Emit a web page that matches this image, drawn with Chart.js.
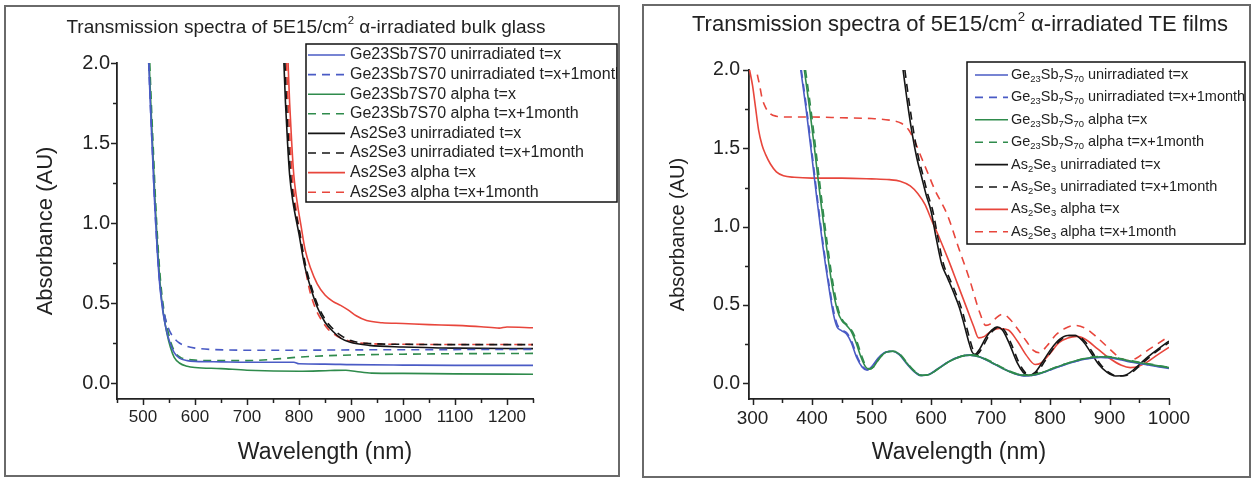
<!DOCTYPE html>
<html>
<head>
<meta charset="utf-8">
<title>Absorbance spectra of alpha-irradiated chalcogenides</title>
<script src="https://cdn.jsdelivr.net/npm/chart.js@4.4.1/dist/chart.umd.min.js"></script>
<style>
  html, body { margin: 0; padding: 0; background: #fff; }
  body { position: relative; width: 1253px; height: 479px; overflow: hidden; font-family: "Liberation Sans", Arial, sans-serif; color: #222; }
  canvas { position: absolute; top: 0; }
  .frame { position: absolute; box-sizing: border-box; border: 2px solid #6a6a6a; pointer-events: none; }
  .title { position: absolute; text-align: center; white-space: nowrap; color: #222; }
  .title sup { font-size: 0.6em; line-height: 0; vertical-align: 0.75em; }
</style>
</head>
<body>
<canvas id="bulk-chart" width="626" height="479" style="left:0"></canvas>
<canvas id="film-chart" width="623" height="479" style="left:630px"></canvas>
<div class="title" style="left:0;top:16px;width:612px;font-size:19px;line-height:22px">Transmission spectra of 5E15/cm<sup>2</sup> α-irradiated bulk glass</div>
<div class="title" style="left:660px;top:11px;width:600px;font-size:22px;line-height:26px">Transmission spectra of 5E15/cm<sup>2</sup> α-irradiated TE films</div>
<div class="frame" style="left:4px;top:5px;width:616px;height:472px"></div>
<div class="frame" style="left:642px;top:4px;width:609px;height:474px"></div>
<script>
// Tick values
const bulkMajorX = [500, 600, 700, 800, 900, 1000, 1100, 1200]
const bulkMinorX = [450, 550, 650, 750, 850, 950, 1050, 1150, 1250]
const filmMajorX = [300, 400, 500, 600, 700, 800, 900, 1000]
const filmMinorX = [350, 450, 550, 650, 750, 850, 950]
const yMajor = [0.0, 0.5, 1.0, 1.5, 2.0]
const yMinor = [0.25, 0.75, 1.25, 1.75]

// Legend labels (_{..} marks a subscript)
const bulkLabels = [
  "Ge23Sb7S70 unirradiated t=x",
  "Ge23Sb7S70 unirradiated t=x+1month",
  "Ge23Sb7S70 alpha t=x",
  "Ge23Sb7S70 alpha t=x+1month",
  "As2Se3 unirradiated t=x",
  "As2Se3 unirradiated t=x+1month",
  "As2Se3 alpha t=x",
  "As2Se3 alpha t=x+1month",
]
const filmLabels = [
  "Ge_{23}Sb_{7}S_{70} unirradiated t=x",
  "Ge_{23}Sb_{7}S_{70} unirradiated t=x+1month",
  "Ge_{23}Sb_{7}S_{70} alpha t=x",
  "Ge_{23}Sb_{7}S_{70} alpha t=x+1month",
  "As_{2}Se_{3} unirradiated t=x",
  "As_{2}Se_{3} unirradiated t=x+1month",
  "As_{2}Se_{3} alpha t=x",
  "As_{2}Se_{3} alpha t=x+1month",
]

// Bulk glass spectra: [wavelength nm, absorbance AU]
const bulkGeUnirr = [[511, 2.0], [514, 1.75], [518, 1.45], [522, 1.15], [527, 0.85], [532, 0.62], [538, 0.45], [545, 0.33], [552, 0.25], [560, 0.19], [570, 0.155], [585, 0.14], [600, 0.135], [650, 0.132], [700, 0.13], [790, 0.13], [800, 0.12], [850, 0.118], [900, 0.115], [1000, 0.112], [1100, 0.11], [1250, 0.11]]
const bulkGeUnirrLater = [[511, 2.0], [514, 1.75], [518, 1.45], [522, 1.15], [527, 0.85], [532, 0.63], [538, 0.48], [545, 0.38], [552, 0.32], [560, 0.28], [570, 0.25], [585, 0.228], [600, 0.218], [630, 0.21], [700, 0.205], [800, 0.205], [900, 0.207], [1000, 0.208], [1250, 0.21]]
const bulkGeAlpha = [[512, 2.0], [515, 1.75], [519, 1.45], [523, 1.15], [528, 0.85], [533, 0.62], [539, 0.44], [546, 0.31], [553, 0.22], [560, 0.16], [570, 0.125], [585, 0.105], [600, 0.097], [650, 0.09], [700, 0.08], [800, 0.073], [860, 0.078], [890, 0.08], [910, 0.072], [940, 0.062], [1000, 0.06], [1100, 0.057], [1250, 0.055]]
const bulkGeAlphaLater = [[513, 2.0], [516, 1.75], [520, 1.45], [524, 1.15], [529, 0.85], [534, 0.63], [540, 0.46], [547, 0.34], [554, 0.25], [562, 0.19], [572, 0.16], [585, 0.148], [600, 0.143], [650, 0.14], [700, 0.14], [750, 0.148], [800, 0.162], [850, 0.17], [900, 0.175], [1000, 0.18], [1100, 0.183], [1250, 0.185]]
const bulkAsUnirr = [[771, 2.0], [774, 1.75], [778, 1.5], [782, 1.3], [788, 1.14], [800, 0.93], [811, 0.73], [822, 0.6], [835, 0.475], [850, 0.38], [866, 0.32], [880, 0.28], [897, 0.256], [935, 0.235], [1000, 0.225], [1100, 0.218], [1250, 0.215]]
const bulkAsUnirrLater = [[773, 2.0], [776, 1.75], [780, 1.5], [784, 1.3], [790, 1.14], [802, 0.93], [813, 0.73], [824, 0.6], [837, 0.48], [852, 0.39], [868, 0.33], [884, 0.29], [900, 0.265], [930, 0.248], [1000, 0.242], [1100, 0.24], [1250, 0.24]]
const bulkAsAlpha = [[779, 2.0], [782, 1.75], [786, 1.5], [790, 1.3], [796, 1.14], [804, 0.98], [812, 0.83], [822, 0.72], [835, 0.62], [850, 0.55], [865, 0.51], [880, 0.485], [895, 0.455], [910, 0.42], [930, 0.39], [960, 0.377], [1000, 0.372], [1050, 0.365], [1100, 0.36], [1150, 0.352], [1185, 0.343], [1200, 0.35], [1250, 0.345]]
const bulkAsAlphaLater = [[776, 2.0], [779, 1.75], [783, 1.5], [787, 1.3], [793, 1.12], [800, 0.97], [808, 0.8], [819, 0.6], [830, 0.48], [842, 0.4], [855, 0.34], [870, 0.3], [885, 0.275], [905, 0.255], [940, 0.245], [1000, 0.242], [1250, 0.24]]

// Thermally evaporated film spectra: [wavelength nm, absorbance AU]
const filmGeUnirr = [[381, 2.0], [390, 1.75], [399, 1.47], [408, 1.18], [418, 0.88], [428, 0.62], [436, 0.44], [442, 0.36], [450, 0.335], [458, 0.315], [466, 0.26], [475, 0.165], [484, 0.105], [492, 0.085], [500, 0.105], [512, 0.165], [524, 0.2], [535, 0.205], [546, 0.185], [558, 0.13], [570, 0.08], [583, 0.05], [595, 0.055], [610, 0.09], [630, 0.14], [650, 0.172], [665, 0.18], [680, 0.17], [700, 0.135], [720, 0.095], [740, 0.062], [760, 0.047], [780, 0.058], [800, 0.085], [830, 0.125], [860, 0.155], [885, 0.165], [905, 0.16], [930, 0.14], [960, 0.12], [1000, 0.095]]
const filmGeUnirrLater = [[382, 2.0], [391, 1.75], [400, 1.47], [409, 1.18], [419, 0.88], [429, 0.62], [437, 0.45], [443, 0.37], [451, 0.34], [459, 0.32], [467, 0.265], [476, 0.17], [485, 0.108], [493, 0.087], [501, 0.107], [513, 0.166], [525, 0.2], [536, 0.205], [547, 0.185], [559, 0.13], [571, 0.08], [584, 0.05], [596, 0.055], [611, 0.09], [631, 0.14], [651, 0.172], [666, 0.18], [681, 0.17], [701, 0.135], [721, 0.095], [741, 0.062], [761, 0.048], [781, 0.06], [801, 0.087], [831, 0.127], [861, 0.157], [886, 0.167], [906, 0.162], [931, 0.142], [961, 0.122], [1000, 0.097]]
const filmGeAlpha = [[387, 2.0], [396, 1.75], [405, 1.47], [414, 1.18], [424, 0.88], [434, 0.62], [443, 0.46], [450, 0.4], [458, 0.37], [466, 0.33], [474, 0.26], [482, 0.17], [490, 0.105], [496, 0.09], [503, 0.105], [514, 0.165], [525, 0.2], [536, 0.205], [547, 0.185], [559, 0.13], [571, 0.08], [584, 0.05], [596, 0.055], [611, 0.09], [631, 0.14], [651, 0.172], [666, 0.18], [681, 0.17], [701, 0.135], [721, 0.095], [741, 0.062], [761, 0.05], [781, 0.062], [801, 0.09], [831, 0.13], [861, 0.16], [886, 0.17], [906, 0.165], [931, 0.145], [961, 0.125], [1000, 0.1]]
const filmGeAlphaLater = [[389, 2.0], [398, 1.75], [407, 1.47], [416, 1.18], [426, 0.88], [436, 0.62], [445, 0.46], [452, 0.4], [460, 0.37], [468, 0.33], [476, 0.26], [484, 0.17], [491, 0.107], [497, 0.092], [504, 0.107], [515, 0.166], [526, 0.2], [537, 0.205], [548, 0.185], [560, 0.13], [572, 0.08], [585, 0.052], [597, 0.057], [612, 0.092], [632, 0.142], [652, 0.174], [667, 0.182], [682, 0.172], [702, 0.137], [722, 0.097], [742, 0.064], [762, 0.052], [782, 0.064], [802, 0.092], [832, 0.132], [862, 0.162], [887, 0.172], [907, 0.167], [932, 0.147], [962, 0.127], [1000, 0.102]]
const filmAsUnirr = [[553, 2.0], [560, 1.8], [568, 1.6], [576, 1.44], [584, 1.32], [592, 1.2], [600, 1.1], [609, 0.92], [618, 0.76], [628, 0.67], [638, 0.58], [648, 0.48], [656, 0.37], [663, 0.27], [669, 0.2], [674, 0.185], [682, 0.22], [692, 0.29], [702, 0.34], [711, 0.36], [720, 0.34], [732, 0.25], [745, 0.13], [755, 0.07], [764, 0.05], [775, 0.07], [788, 0.14], [802, 0.22], [816, 0.28], [830, 0.305], [842, 0.305], [855, 0.27], [868, 0.2], [882, 0.12], [896, 0.07], [910, 0.047], [922, 0.048], [935, 0.07], [950, 0.12], [965, 0.17], [982, 0.22], [1000, 0.27]]
const filmAsUnirrLater = [[556, 2.0], [563, 1.8], [571, 1.6], [579, 1.44], [587, 1.32], [595, 1.2], [603, 1.1], [612, 0.92], [621, 0.76], [631, 0.67], [641, 0.58], [651, 0.48], [659, 0.37], [666, 0.27], [672, 0.2], [677, 0.185], [685, 0.22], [695, 0.29], [705, 0.34], [714, 0.36], [723, 0.34], [735, 0.25], [748, 0.13], [758, 0.07], [767, 0.05], [778, 0.07], [791, 0.14], [805, 0.22], [819, 0.28], [833, 0.305], [845, 0.305], [858, 0.27], [871, 0.2], [885, 0.12], [899, 0.07], [913, 0.047], [925, 0.048], [938, 0.07], [953, 0.12], [968, 0.17], [985, 0.22], [1000, 0.26]]
const filmAsAlpha = [[295, 2.0], [300, 1.9], [305, 1.76], [310, 1.62], [316, 1.52], [322, 1.46], [330, 1.4], [340, 1.35], [352, 1.325], [370, 1.315], [400, 1.31], [450, 1.31], [500, 1.305], [530, 1.3], [548, 1.29], [565, 1.26], [578, 1.21], [590, 1.14], [600, 1.05], [615, 0.92], [630, 0.78], [645, 0.63], [660, 0.48], [672, 0.36], [680, 0.29], [690, 0.3], [700, 0.33], [715, 0.35], [730, 0.34], [745, 0.27], [760, 0.18], [775, 0.12], [785, 0.13], [800, 0.19], [815, 0.26], [830, 0.29], [845, 0.3], [860, 0.28], [880, 0.22], [900, 0.16], [920, 0.115], [935, 0.1], [950, 0.11], [965, 0.14], [980, 0.18], [1000, 0.23]]
const filmAsAlphaLater = [[308, 1.97], [312, 1.9], [316, 1.82], [322, 1.76], [330, 1.72], [340, 1.705], [360, 1.7], [400, 1.7], [450, 1.695], [500, 1.69], [530, 1.68], [550, 1.66], [562, 1.62], [572, 1.55], [585, 1.43], [597, 1.32], [607, 1.23], [618, 1.15], [628, 1.07], [645, 0.88], [665, 0.66], [682, 0.45], [692, 0.37], [700, 0.38], [710, 0.42], [720, 0.44], [730, 0.42], [745, 0.35], [760, 0.27], [772, 0.21], [782, 0.195], [795, 0.24], [810, 0.31], [825, 0.35], [842, 0.37], [860, 0.35], [880, 0.29], [900, 0.22], [915, 0.17], [930, 0.145], [945, 0.16], [960, 0.2], [980, 0.25], [1000, 0.3]]

const bulkSeries = [bulkGeUnirr, bulkGeUnirrLater, bulkGeAlpha, bulkGeAlphaLater, bulkAsUnirr, bulkAsUnirrLater, bulkAsAlpha, bulkAsAlphaLater]
const filmSeries = [filmGeUnirr, filmGeUnirrLater, filmGeAlpha, filmGeAlphaLater, filmAsUnirr, filmAsUnirrLater, filmAsAlpha, filmAsAlphaLater]

// Line styles, in legend order
const lineColors = ["#4a5bc5", "#4a5bc5", "#2f8b4c", "#2f8b4c", "#151515", "#151515", "#e8463c", "#e8463c"]
const lineDashed = [false, true, false, true, false, true, false, true]

// Stacking of the curves (lower value is drawn on top)
const bulkDrawOrder = [0, 1, 2, 3, 4, 5, 6, 7]
const filmDrawOrder = [3, 2, 1, 0, 4, 5, 6, 7]

const FONT = "'Liberation Sans', Arial, sans-serif"
const INK = "#222"

// Draws text where _{..} parts are set as subscripts
function drawRichText(ctx, text, x, y, size) {
  const parts = text.split(/_\{([^}]*)\}/)
  let cx = x
  parts.forEach((part, i) => {
    if (!part) return
    const sub = i % 2 === 1
    ctx.font = `${sub ? size * 0.65 : size}px ${FONT}`
    ctx.fillText(part, cx, sub ? y + size * 0.3 : y)
    cx += ctx.measureText(part).width
  })
}

// Boxed legend drawn over the plot area, rows in dataset index order
const legendBox = {
  id: "legendBox",
  afterDatasetsDraw(chart, args, opts) {
    const ctx = chart.ctx
    const [bx, by, bw, bh] = opts.box
    ctx.save()
    ctx.fillStyle = "#fff"
    ctx.fillRect(bx, by, bw, bh)
    ctx.beginPath()
    ctx.rect(bx, by, bw, bh)
    ctx.clip()
    chart.data.datasets.forEach((ds, i) => {
      const y = by + opts.firstRow + i * opts.rowGap
      ctx.strokeStyle = ds.borderColor
      ctx.lineWidth = ds.borderWidth
      ctx.setLineDash(ds.borderDash)
      ctx.beginPath()
      ctx.moveTo(bx + opts.sample[0], y)
      ctx.lineTo(bx + opts.sample[1], y)
      ctx.stroke()
      ctx.fillStyle = INK
      ctx.textBaseline = "middle"
      ctx.textAlign = "left"
      drawRichText(ctx, ds.label, bx + opts.textX, y, opts.fontSize)
    })
    ctx.restore()
    ctx.save()
    ctx.strokeStyle = "#111"
    ctx.lineWidth = 1.5
    ctx.strokeRect(bx, by, bw, bh)
    ctx.restore()
  },
}

// Outward tick marks, major ones longer
const axisTicks = {
  id: "axisTicks",
  afterDraw(chart) {
    const { ctx, chartArea, scales } = chart
    ctx.save()
    ctx.strokeStyle = INK
    ctx.lineWidth = 1.5
    ctx.beginPath()
    scales.x.ticks.forEach((t) => {
      const px = Math.round(scales.x.getPixelForValue(t.value)) + 0.5
      ctx.moveTo(px, chartArea.bottom)
      ctx.lineTo(px, chartArea.bottom + (t.label ? 6 : 4))
    })
    scales.y.ticks.forEach((t) => {
      const py = Math.round(scales.y.getPixelForValue(t.value)) + 0.5
      ctx.moveTo(chartArea.left, py)
      ctx.lineTo(chartArea.left - (t.label ? 6 : 4), py)
    })
    ctx.stroke()
    ctx.restore()
  },
}

function makeChart(canvasId, cfg) {
  const datasets = cfg.series.map((points, i) => ({
    label: cfg.labels[i],
    data: points.map(([x, y]) => ({ x, y })),
    order: cfg.drawOrder[i],
    borderColor: lineColors[i],
    borderWidth: 1.6,
    borderDash: lineDashed[i] ? [8, 6] : [],
    pointRadius: 0,
    cubicInterpolationMode: "monotone",
    fill: false,
  }))

  return new Chart(document.getElementById(canvasId), {
    type: "line",
    data: { datasets },
    plugins: [legendBox, axisTicks],
    options: {
      responsive: false,
      animation: false,
      devicePixelRatio: 1,
      events: [],
      layout: { padding: { left: 0, top: cfg.top, right: cfg.right, bottom: 0 } },
      plugins: {
        legend: { display: false },
        tooltip: { enabled: false },
        title: { display: false },
        legendBox: cfg.legend,
      },
      scales: {
        x: {
          type: "linear",
          min: cfg.xMin,
          max: cfg.xMax,
          afterBuildTicks: (axis) => {
            axis.ticks = cfg.majorX.concat(cfg.minorX).sort((a, b) => a - b).map((v) => ({ value: v }))
          },
          afterFit: (axis) => {
            axis.height = 80
          },
          ticks: {
            autoSkip: false,
            maxRotation: 0,
            minRotation: 0,
            padding: 2.5,
            color: INK,
            font: { family: FONT, size: cfg.xTickSize },
            callback: (v) => (cfg.majorX.includes(v) ? String(v) : ""),
          },
          grid: { drawOnChartArea: false, drawTicks: true, tickLength: 6, tickColor: "transparent" },
          border: { display: true, color: INK, width: 1.8 },
          title: {
            display: true,
            text: "Wavelength (nm)",
            color: INK,
            font: { family: FONT, size: cfg.xTitleSize },
            padding: { top: 0, bottom: cfg.xTitlePad },
          },
        },
        y: {
          type: "linear",
          min: -0.1,
          max: 2.0,
          afterBuildTicks: (axis) => {
            axis.ticks = yMajor.concat(yMinor).sort((a, b) => a - b).map((v) => ({ value: v }))
          },
          afterFit: (axis) => {
            axis.width = cfg.yWidth
          },
          ticks: {
            autoSkip: false,
            padding: cfg.yTickPad,
            color: INK,
            font: { family: FONT, size: cfg.yTickSize },
            callback: (v) => (yMajor.includes(v) ? v.toFixed(1) : ""),
          },
          grid: { drawOnChartArea: false, drawTicks: true, tickLength: 6, tickColor: "transparent" },
          border: { display: true, color: INK, width: 1.8 },
          title: {
            display: true,
            text: "Absorbance (AU)",
            color: INK,
            font: { family: FONT, size: cfg.yTitleSize },
            padding: { top: cfg.yTitlePad, bottom: 0 },
          },
        },
      },
    },
  })
}

// Bulk glass panel
makeChart("bulk-chart", {
  series: bulkSeries,
  labels: bulkLabels,
  drawOrder: bulkDrawOrder,
  xMin: 450,
  xMax: 1250,
  majorX: bulkMajorX,
  minorX: bulkMinorX,
  top: 63,
  right: 93,
  yWidth: 117,
  xTickSize: 17,
  yTickSize: 20,
  yTickPad: 1,
  xTitleSize: 23,
  xTitlePad: 13,
  yTitleSize: 22,
  yTitlePad: 33,
  legend: { box: [306, 44, 311, 158], firstRow: 11, rowGap: 19.6, sample: [2, 39], textX: 44, fontSize: 16 },
})

// Thin film panel
makeChart("film-chart", {
  series: filmSeries,
  labels: filmLabels,
  drawOrder: filmDrawOrder,
  xMin: 294,
  xMax: 1000,
  majorX: filmMajorX,
  minorX: filmMinorX,
  top: 70,
  right: 84,
  yWidth: 119,
  xTickSize: 19,
  yTickSize: 19.5,
  yTickPad: 3,
  xTitleSize: 23,
  xTitlePad: 13,
  yTitleSize: 20,
  yTitlePad: 36,
  legend: { box: [337, 62, 278, 182], firstRow: 13, rowGap: 22.4, sample: [8, 41], textX: 44, fontSize: 14.5 },
})
</script>
</body>
</html>
